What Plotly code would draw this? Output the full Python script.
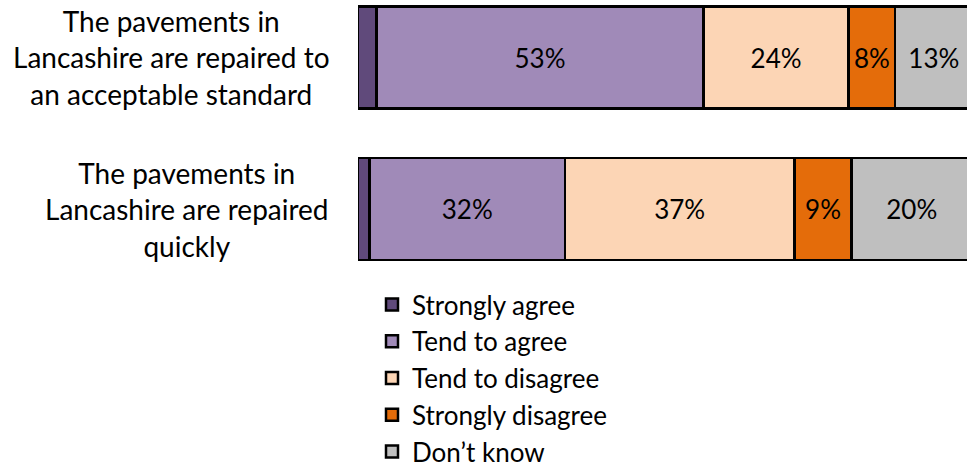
import plotly.graph_objects as go

categories = [
    "The pavements in<br>Lancashire are repaired to<br>an acceptable standard",
    "The pavements in<br>Lancashire are repaired<br>quickly",
]
series_names = ["Strongly agree", "Tend to agree", "Tend to disagree", "Strongly disagree", "Don’t know"]
strongly_agree = [3.0, 1.9]
tend_to_agree = [53.3, 31.8]
tend_to_disagree = [23.6, 37.4]
strongly_disagree = [7.6, 9.3]
dont_know = [12.6, 19.6]
colors = ["#604A7B", "#A08AB8", "#FCD5B5", "#E46C0A", "#BFBFBF"]

series_values = [strongly_agree, tend_to_agree, tend_to_disagree, strongly_disagree, dont_know]

W, H = 967, 468
PL = 358
FONT = "Lato"
STEP = 151.5
Y0 = 57.5

fig = go.Figure()
ypos = [0, 1]
for name, vals, col in zip(series_names, series_values, colors):
    labels = [f"{round(v):d}%" if v >= 5 else "" for v in vals]
    fig.add_trace(go.Bar(
        y=ypos, x=vals, name=name, orientation="h",
        marker=dict(color=col, line=dict(color="black", width=2.5)),
        width=102 / STEP,
        text=labels, textposition="inside", insidetextanchor="middle",
        textfont=dict(family=FONT, size=26, color="black"),
        constraintext="none",
        hoverinfo="skip",
    ))

label_x_px = [171, 187]
for i, (cat, px) in enumerate(zip(categories, label_x_px)):
    fig.add_annotation(
        x=(px - PL) / (W - PL), xref="paper", y=ypos[i], yref="y",
        text=cat, showarrow=False, xanchor="center", yanchor="middle", align="center",
        font=dict(family=FONT, size=28, color="black"),
    )

fig.update_layout(
    width=W, height=H,
    margin=dict(l=PL, r=0, t=0, b=0, autoexpand=False),
    barmode="stack",
    plot_bgcolor="white", paper_bgcolor="white",
    xaxis=dict(range=[0, 99.2], visible=False, fixedrange=True),
    yaxis=dict(range=[(H - Y0) / STEP, -Y0 / STEP], visible=False, fixedrange=True),
    showlegend=True,
    legend=dict(
        x=(372 - PL) / (W - PL), xanchor="left",
        y=1 - 281 / H, yanchor="top",
        traceorder="normal",
        font=dict(family=FONT, size=26, color="black"),
        bgcolor="rgba(0,0,0,0)",
    ),
    uniformtext=dict(mode=False),
)

fig.write_html("out.html")
